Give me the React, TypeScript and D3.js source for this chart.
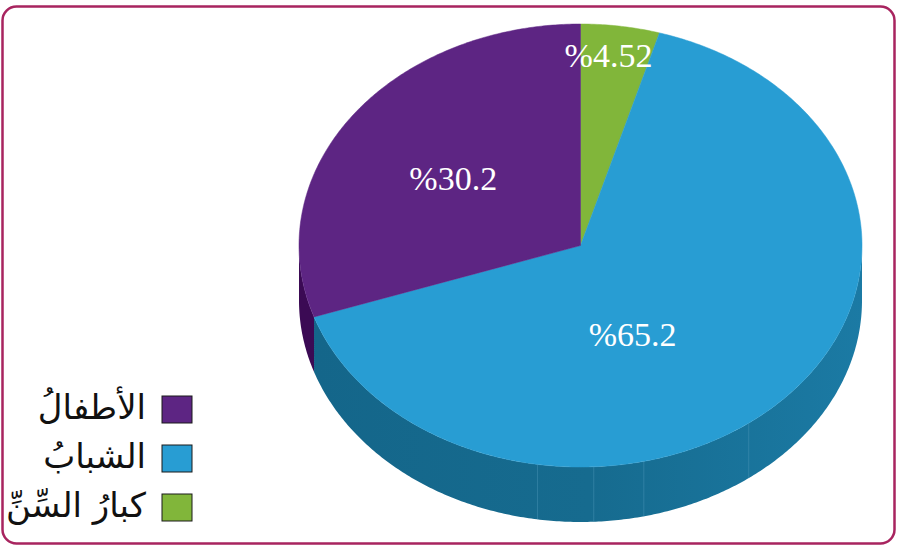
import React from "react";
import * as d3 from "d3";

const categories = ["كبارُ السِّنِّ", "الشبابُ", "الأطفالُ"];
const values = [4.52, 65.2, 30.2];
const valueLabels = ["%4.52", "%65.2", "%30.2"];
const topColors = ["#81b63a", "#289dd3", "#5d2583"];
const sideColors = ["#5a8a22", "#176d93", "#3b0a54"];
const legendOrder = ["الأطفالُ", "الشبابُ", "كبارُ السِّنِّ"];
const legendColors = ["#5d2583", "#289dd3", "#81b63a"];
// label placement: [angle (deg, clockwise from top), radius fraction]
const labelAngles = [6.6, 155, 303.8];
const labelRadii = [0.866, 0.439, 0.544];

const W = 900, H = 547;
const cx = 580.5, cy = 245.5, rx = 281.5, ry = 221.5, depth = 55;

const pt = (a: number, dy = 0): [number, number] => [cx + rx * Math.sin(a), cy - ry * Math.cos(a) + dy];

function arcPoints(a0: number, a1: number, dy = 0): [number, number][] {
  const n = Math.max(2, Math.ceil(Math.abs(a1 - a0) / 0.01));
  return d3.range(n + 1).map((i) => pt(a0 + ((a1 - a0) * i) / n, dy));
}

export default function App() {
  const pie = d3.pie<number>().sort(null).value((d) => d)(values);
  const line = d3.line();
  const sides: any[] = [];
  pie.forEach((p, i) => {
    const a0 = Math.max(p.startAngle, Math.PI / 2);
    const a1 = Math.min(p.endAngle, (3 * Math.PI) / 2);
    if (a1 > a0) {
      const pts = [...arcPoints(a0, a1, 0), ...arcPoints(a1, a0, depth)];
      sides.push(
        <path key={"s" + i} d={line(pts) + "Z"} fill={i === 1 ? "url(#blueSide)" : sideColors[i]} />
      );
    }
  });
  const tops = pie.map((p, i) => {
    const pts: [number, number][] = [[cx, cy], ...arcPoints(p.startAngle, p.endAngle)];
    return <path key={"t" + i} d={line(pts) + "Z"} fill={topColors[i]} stroke={topColors[i]} strokeWidth={0.5} />;
  });
  const labels = valueLabels.map((t, i) => {
    const a = (labelAngles[i] * Math.PI) / 180;
    const x = cx + rx * labelRadii[i] * Math.sin(a);
    const y = cy - ry * labelRadii[i] * Math.cos(a);
    return (
      <text key={"l" + i} x={x} y={y} dy="0.35em" textAnchor="middle" fill="#ffffff"
        fontFamily="'Liberation Serif', 'Times New Roman', serif" fontSize={34}>
        {t}
      </text>
    );
  });
  const seamAngles = [143.3, 167, 177.3, 188.8];
  const legendY = d3.scalePoint<string>().domain(legendOrder).range([409, 507]);
  return (
    <svg width={W} height={H} style={{ position: "absolute", left: 0, top: 0 }}>
      <defs>
        <linearGradient id="blueSide" x1="0" x2="1" y1="0" y2="0">
          <stop offset="0" stopColor="#14668a" />
          <stop offset="0.5" stopColor="#166b8f" />
          <stop offset="1" stopColor="#1b7aa4" />
        </linearGradient>
      </defs>
      <rect x={2.5} y={6.5} width={892} height={537} rx={14} fill="#ffffff" stroke="#a8245f" strokeWidth={2.5} />
      {sides}
      {seamAngles.map((d, i) => {
        const a = (d * Math.PI) / 180;
        const [x1, y1] = pt(a);
        const [x2, y2] = pt(a, depth);
        return <line key={"m" + i} x1={x1} y1={y1} x2={x2} y2={y2} stroke="#4d95b8" strokeWidth={0.8} opacity={0.6} />;
      })}
      {tops}
      {labels}
      {legendOrder.map((c, i) => (
        <g key={"g" + i}>
          <rect x={162} y={(legendY(c) as number) - 13} width={30} height={27} fill={legendColors[i]} stroke="#1a1a1a" strokeWidth={1} />
          <text x={146} y={(legendY(c) as number) + 10} textAnchor="end" fontFamily="'DejaVu Sans', serif" fontSize={34} fill="#111">
            {c}
          </text>
        </g>
      ))}
    </svg>
  );
}
